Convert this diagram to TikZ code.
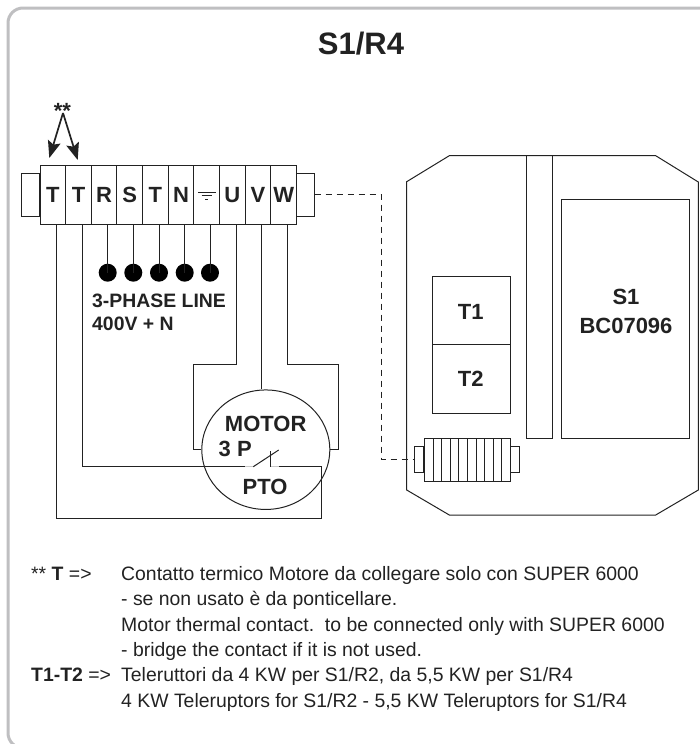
\documentclass[tikz,border=0pt]{standalone}
\usepackage{fontspec}
\setmainfont{Liberation Sans}
\usetikzlibrary{arrows.meta,shapes.geometric}
\definecolor{ink}{HTML}{222222}
\definecolor{frame}{HTML}{BFBFC1}
\definecolor{pale}{HTML}{C8C8C8}
\tikzset{x=1pt,y=-1pt,
  wire/.style={draw=ink,line width=1pt,line join=miter},
  palewire/.style={draw=pale,line width=1pt},
  lab/.style={inner sep=0pt,text=ink,font=\fontsize{22}{24}\selectfont\bfseries},
  note/.style={inner sep=0pt,anchor=base west,text=ink,font=\fontsize{19.4}{22}\selectfont},
  dotmark/.style={circle,fill=black,minimum size=18pt,inner sep=0pt},
  bigarrow/.style={draw=ink,line width=1.7pt,-{Stealth[length=17pt,width=13pt,inset=3pt]}}
}
\begin{document}
\begin{tikzpicture}
\useasboundingbox (0,0) rectangle (700,744);
% card frame
\draw[frame,line width=3pt,rounded corners=15pt] (712,8) -- (8,8) -- (8,748) -- (712,748);
\node[lab,font=\fontsize{31}{33}\selectfont\bfseries] (title) at (361,44) {S1/R4};
% terminal block
\node[wire,minimum width=17.5pt,minimum height=43pt,inner sep=0pt,anchor=east] (tabl) at (39.5,194.5) {};
\node[wire,minimum width=17.5pt,minimum height=43pt,inner sep=0pt,anchor=west] (tabr) at (296,194.5) {};
\foreach \i/\t in {0/T,1/T,2/R,3/S,4/T,5/N,6/,7/U,8/V,9/W}{
  \node[wire,lab,minimum width=25.65pt,minimum height=59.5pt,anchor=north west] (c\i) at ({39.5+25.65*\i},164.5) {\t};
}
% earth
\coordinate (e1) at (198,192.7); \coordinate (e2) at (215.7,192.7);
\coordinate (e3) at (201.7,195.7); \coordinate (e4) at (212.3,195.7);
\coordinate (e5) at (205,199); \coordinate (e6) at (208.3,199);
\draw[ink,line width=0.7pt] (e1)--(e2) (e3)--(e4) (e5)--(e6);
% stars and arrows
\node[lab] (stars) at (62.5,111) {**};
\coordinate (apex) at (63,113);
\coordinate (a1) at (49.3,158);
\coordinate (a2) at (77.7,160);
\draw[bigarrow] (apex) -- (a1);
\draw[bigarrow] (apex) -- (a2);
% line dots
\foreach \i/\x in {1/107.7,2/133.3,3/159,4/184.7,5/210}{
  \node[dotmark] (d\i) at (\x,272.7) {};
  \draw[wire] (\x,224) -- (d\i.center);
}
\node[lab,anchor=base west,font=\fontsize{19.4}{21}\selectfont\bfseries] (l1) at (92,307.3) {3-PHASE LINE};
\node[lab,anchor=base west,font=\fontsize{19.4}{21}\selectfont\bfseries] (l2) at (92,330.7) {400V + N};
% motor
\node[wire,ellipse,minimum width=128pt,minimum height=119.5pt,inner sep=0pt] (motor) at (265.8,449.7) {};
\node[lab] (mt) at (265.7,424) {MOTOR};
\node[lab,anchor=west] (p3) at (218.5,449) {3 P};
\node[lab] (pto) at (265,487) {PTO};
\coordinate (w0) at (56.7,224);
\coordinate (w1) at (82,224);
\coordinate (w7) at (236.3,224);
\coordinate (w8) at (261.7,224);
\coordinate (w9) at (287.3,224);
\coordinate (sw0) at (245,466.7);
\coordinate (sw1) at (253.3,466.7);
\coordinate (sw2) at (278.7,450);
\coordinate (sw3) at (278.7,466.7);
\coordinate (sw4) at (270,466.7);
\coordinate (sw5) at (270,450.7);
\draw[palewire] (sw0) -- (sw1) (sw4) -- (sw3);
\draw[wire] (w0) |- (321.7,518) |- (sw3);
\draw[wire] (w1) |- (sw0);
\draw[wire] (sw1) -- (sw2);
\draw[wire] (sw4) -- (sw5);
\draw[wire] (w7) |- (193.3,364) |- (motor.west);
\draw[wire] (w8) -- (motor.north -| w8);
\draw[wire] (w9) |- (338.7,364) |- (motor.east);
% device
\draw[wire] (406.7,181.7) -- (449.3,155.7) -- (655.7,155.7) -- (698.3,182) -- (698.3,490) -- (655.7,515) -- (449.3,515) -- (406.7,490) -- cycle;
\draw[wire] (526.7,155.7) rectangle (552.3,438.3);
\node[wire,anchor=north west,minimum width=128.6pt,minimum height=239.6pt,inner sep=0pt] (s1) at (560.7,198.7) {};
\node[wire,anchor=north west,minimum width=77.4pt,minimum height=68.3pt,inner sep=0pt] (t1) at (432.3,275.7) {};
\node[wire,anchor=north west,minimum width=77.4pt,minimum height=68.7pt,inner sep=0pt] (t2) at (432.3,344) {};
\node[lab] at (470.7,311.7) {T1};
\node[lab] at (470.7,379) {T2};
\node[lab] at (626,296.7) {S1};
\node[lab] at (626,325.7) {BC07096};
% small terminal
\node[wire,anchor=east,minimum width=8.7pt,minimum height=26.4pt,inner sep=0pt] (stl) at (424,459.5) {};
\node[wire,anchor=west,minimum width=8.7pt,minimum height=26.4pt,inner sep=0pt] (str) at (510,459.5) {};
\foreach \i in {0,...,9}{
  \node[wire,anchor=north west,minimum width=8.6pt,minimum height=43pt,inner sep=0pt] (sc\i) at ({424+8.6*\i},438.3) {};
}
% dashed link
\coordinate (bend1) at (381.3,194.5);
\coordinate (bend2) at (381.3,459.5);
\draw[wire,dash pattern=on 6pt off 5pt] (tabr.east) -- (bend1) -- (bend2) -- (stl.west);
% notes
\node[note] (n0) at (31,580) {** \textbf{T} =>};
\node[note] (n1) at (121,580) {Contatto termico Motore da collegare solo con SUPER 6000};
\node[note] (n2) at (121,605.5) {- se non usato è da ponticellare.};
\node[note] (n3) at (121,631) {Motor thermal contact.\ \ to be connected only with SUPER 6000};
\node[note] (n4) at (121,656) {- bridge the contact if it is not used.};
\node[note] (n5) at (31,681.7) {\textbf{T1-T2} =>};
\node[note] (n6) at (121,681.7) {Teleruttori da 4 KW per S1/R2, da 5,5 KW per S1/R4};
\node[note] (n7) at (121,707.5) {4 KW Teleruptors for S1/R2 - 5,5 KW Teleruptors for S1/R4};
\end{tikzpicture}
\end{document}
